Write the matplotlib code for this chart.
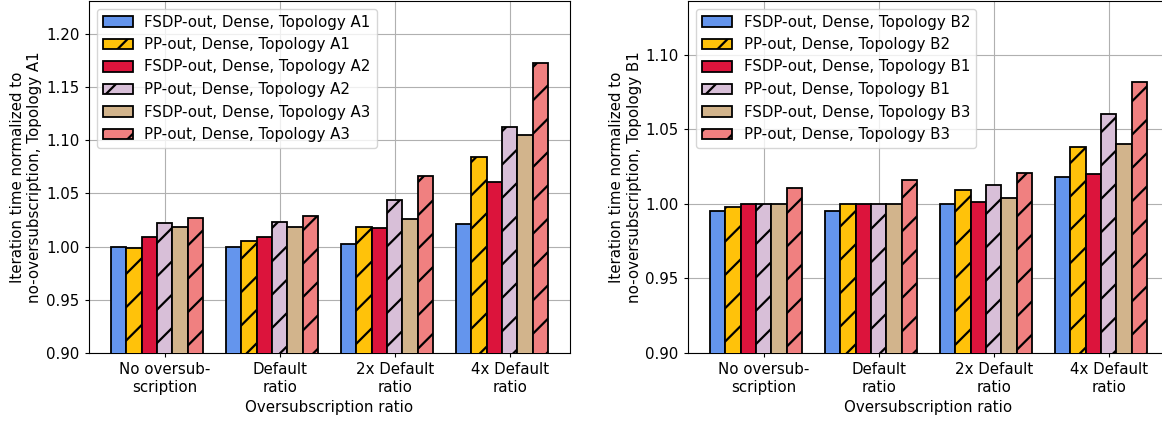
import matplotlib
matplotlib.use("Agg")
import matplotlib.pyplot as plt
import numpy as np

categories = ["No oversub-\nscription", "Default\nratio", "2x Default\nratio", "4x Default\nratio"]

labels_a = [
    "FSDP-out, Dense, Topology A1",
    "PP-out, Dense, Topology A1",
    "FSDP-out, Dense, Topology A2",
    "PP-out, Dense, Topology A2",
    "FSDP-out, Dense, Topology A3",
    "PP-out, Dense, Topology A3",
]
values_a = [
    [1.000, 1.000, 1.002, 1.021],   # FSDP-out A1
    [0.999, 1.005, 1.018, 1.084],   # PP-out A1
    [1.009, 1.009, 1.017, 1.061],   # FSDP-out A2
    [1.022, 1.023, 1.044, 1.112],   # PP-out A2
    [1.018, 1.018, 1.026, 1.105],   # FSDP-out A3
    [1.027, 1.029, 1.066, 1.172],   # PP-out A3
]

labels_b = [
    "FSDP-out, Dense, Topology B2",
    "PP-out, Dense, Topology B2",
    "FSDP-out, Dense, Topology B1",
    "PP-out, Dense, Topology B1",
    "FSDP-out, Dense, Topology B3",
    "PP-out, Dense, Topology B3",
]
values_b = [
    [0.995, 0.995, 1.000, 1.018],   # FSDP-out B2
    [0.998, 1.000, 1.009, 1.038],   # PP-out B2
    [1.000, 1.000, 1.001, 1.020],   # FSDP-out B1
    [1.000, 1.000, 1.013, 1.060],   # PP-out B1
    [1.000, 1.000, 1.004, 1.040],   # FSDP-out B3
    [1.011, 1.016, 1.021, 1.082],   # PP-out B3
]

colors = ["#6495ED", "#FFC20A", "#DC143C", "#D8BFD8", "#D2B48C", "#F08080"]
hatches = ["", "/", "", "/", "", "/"]

plt.rcParams["font.family"] = "DejaVu Sans"
plt.rcParams["font.size"] = 10.8
plt.rcParams["xtick.major.size"] = 3.2
plt.rcParams["ytick.major.size"] = 3.2
plt.rcParams["xtick.major.pad"] = 3.6
plt.rcParams["ytick.major.pad"] = 3.6
plt.rcParams["hatch.linewidth"] = 1.6

W, H = 1162, 421
DPI = 100
fig = plt.figure(figsize=(W / DPI, H / DPI), dpi=DPI)

ax_w = 481 / W
ax_h = 352 / H
ax_b = (H - 353) / H
ax1 = fig.add_axes([89 / W, ax_b, ax_w, ax_h])
ax2 = fig.add_axes([688 / W, ax_b, ax_w, ax_h])


def draw(ax, values, labels, ylabel):
    n = len(values)
    width = 0.8 / n
    x = np.arange(len(categories))
    for i, (vals, lab) in enumerate(zip(values, labels)):
        ax.bar(x + (i - n // 2) * width, vals, width, label=lab,
               color=colors[i], hatch=hatches[i], edgecolor="black",
               linewidth=1.3, zorder=3)
    ax.set_axisbelow(True)
    ax.grid(True, zorder=0)
    ax.set_ylim(0.9, max(max(v) for v in values) * 1.05)
    ax.set_xticks(x)
    ax.set_xticklabels(categories)
    ax.set_xlabel("Oversubscription ratio", labelpad=3.6)
    ax.set_ylabel(ylabel, labelpad=2.7)
    ax.legend(loc="upper left")


draw(ax1, values_a, labels_a,
     "Iteration time normalized to\nno-oversubscription, Topology A1")
draw(ax2, values_b, labels_b,
     "Iteration time normalized to\nno-oversubscription, Topology B1")

fig.savefig("out.png", dpi=DPI)
